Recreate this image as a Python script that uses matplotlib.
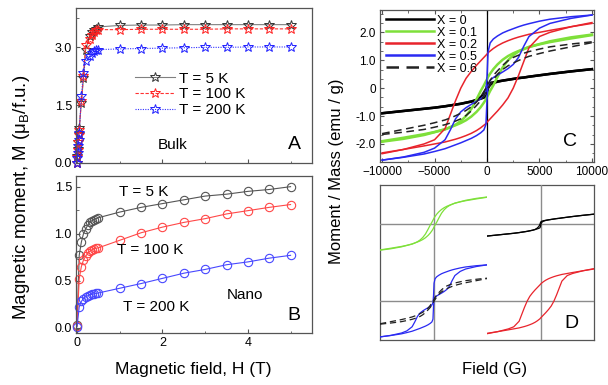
import matplotlib
matplotlib.use("Agg")
import matplotlib.pyplot as plt
from matplotlib.ticker import MultipleLocator, AutoMinorLocator

plt.rcParams["font.family"] = ["Liberation Sans", "DejaVu Sans"]
plt.rcParams["mathtext.fontset"] = "custom"
plt.rcParams["mathtext.rm"] = "Liberation Sans"

# ---- panel A: bulk M(H), field in T, moment in muB/f.u.
bulk_field = [0, 0.01, 0.02, 0.03, 0.04, 0.05, 0.1, 0.15, 0.2, 0.3, 0.35, 0.4, 0.45, 0.5,
              1.0, 1.5, 2.0, 2.5, 3.0, 3.5, 4.0, 4.5, 5.0]
bulk_5k = [0, 0.17, 0.35, 0.55, 0.75, 0.9, 1.55, 2.2, 2.94, 3.29, 3.39, 3.44, 3.48, 3.53,
           3.57, 3.58, 3.58, 3.59, 3.59, 3.59, 3.59, 3.59, 3.59]
bulk_100k = [0, 0.16, 0.34, 0.53, 0.72, 0.86, 1.6, 2.25, 3.05, 3.22, 3.33, 3.4, 3.44, 3.46,
             3.46, 3.47, 3.47, 3.47, 3.47, 3.48, 3.48, 3.48, 3.48]
bulk_200k = [0, 0.13, 0.26, 0.43, 0.6, 0.78, 1.73, 2.34, 2.64, 2.77, 2.86, 2.9, 2.92, 2.94,
             2.96, 2.97, 2.98, 2.99, 3.0, 3.0, 3.01, 3.01, 3.01]

# ---- panel B: nano M(H)
nano_field = [0, 0.05, 0.1, 0.15, 0.2, 0.25, 0.3, 0.35, 0.4, 0.45, 0.5,
              1.0, 1.5, 2.0, 2.5, 3.0, 3.5, 4.0, 4.5, 5.0]
nano_5k = [0.03, 0.77, 0.91, 1.0, 1.05, 1.09, 1.12, 1.14, 1.15, 1.16, 1.17,
           1.23, 1.28, 1.32, 1.36, 1.40, 1.42, 1.45, 1.47, 1.50]
nano_100k = [0.02, 0.52, 0.65, 0.72, 0.76, 0.79, 0.815, 0.83, 0.84, 0.845, 0.85,
             0.93, 1.01, 1.07, 1.12, 1.16, 1.21, 1.245, 1.28, 1.31]
nano_200k = [0.01, 0.22, 0.28, 0.31, 0.33, 0.34, 0.35, 0.355, 0.36, 0.365, 0.37,
             0.42, 0.47, 0.525, 0.58, 0.62, 0.67, 0.70, 0.74, 0.77]

# ---- panels C/D: hysteresis loops, field in G, moment in emu/g
loop_field = [-10000, -8000, -6000, -5000, -4000, -3500, -3000, -2500, -2000, -1500, -1000,
              -600, -300, -100, 0, 100, 300, 600, 1000, 1500, 2000, 2500, 3000, 3500, 4000,
              5000, 6000, 8000, 10000]
# branch coming down from +saturation ("up") and going up from -saturation ("dn")
x0_up = [-0.9, -0.82, -0.74, -0.7, -0.65, -0.62, -0.59, -0.56, -0.52, -0.48, -0.42,
         -0.32, -0.2, -0.05, 0.08, 0.14, 0.18, 0.21, 0.24, 0.27, 0.3, 0.33, 0.36, 0.38, 0.41,
         0.46, 0.51, 0.6, 0.68]
x0_dn = [-0.9, -0.82, -0.74, -0.7, -0.65, -0.62, -0.59, -0.56, -0.52, -0.48, -0.43,
         -0.38, -0.34, -0.3, -0.2, 0.0, 0.12, 0.18, 0.23, 0.27, 0.3, 0.33, 0.36, 0.38, 0.41,
         0.46, 0.51, 0.6, 0.68]
x01_up = [-1.92, -1.82, -1.68, -1.58, -1.48, -1.4, -1.31, -1.18, -1.0, -0.75, -0.4,
          -0.1, 0.1, 0.25, 0.32, 0.4, 0.52, 0.68, 0.85, 1.02, 1.15, 1.25, 1.33, 1.4, 1.47,
          1.57, 1.65, 1.78, 1.9]
x01_dn = [-1.9, -1.78, -1.65, -1.57, -1.47, -1.4, -1.33, -1.25, -1.15, -1.02, -0.85,
          -0.68, -0.52, -0.4, -0.32, -0.25, -0.1, 0.1, 0.4, 0.75, 1.0, 1.18, 1.31, 1.4, 1.48,
          1.58, 1.68, 1.82, 1.92]
x02_up = [-2.35, -2.2, -2.0, -1.85, -1.45, -0.95, -0.45, 0.0, 0.35, 0.6, 0.82,
          0.98, 1.1, 1.18, 1.22, 1.27, 1.33, 1.42, 1.52, 1.62, 1.7, 1.77, 1.83, 1.88, 1.93,
          2.0, 2.07, 2.2, 2.32]
x02_dn = [-2.32, -2.2, -2.07, -2.0, -1.93, -1.88, -1.83, -1.77, -1.7, -1.62, -1.52,
          -1.42, -1.33, -1.27, -1.22, -1.18, -1.1, -0.98, -0.82, -0.6, -0.35, 0.0, 0.45, 0.95,
          1.45, 1.85, 2.0, 2.2, 2.35]
x05_up = [-2.58, -2.47, -2.3, -2.15, -1.85, -1.5, -1.1, -0.85, -0.7, -0.58, -0.47,
          -0.38, -0.28, -0.1, 0.4, 1.3, 1.62, 1.76, 1.87, 1.98, 2.06, 2.13, 2.2, 2.26, 2.31,
          2.4, 2.47, 2.56, 2.62]
x05_dn = [-2.58, -2.48, -2.36, -2.27, -2.17, -2.1, -2.03, -1.96, -1.88, -1.8, -1.7,
          -1.6, -1.5, -1.3, -0.4, 0.1, 0.28, 0.38, 0.47, 0.58, 0.7, 0.85, 1.1, 1.5, 1.85,
          2.15, 2.32, 2.5, 2.62]
x06_up = [-1.63, -1.48, -1.33, -1.24, -1.14, -1.07, -0.99, -0.9, -0.8, -0.67, -0.5,
          -0.3, -0.12, 0.0, 0.06, 0.14, 0.28, 0.45, 0.62, 0.82, 0.98, 1.1, 1.18, 1.25, 1.31,
          1.4, 1.48, 1.58, 1.66]
x06_dn = [-1.66, -1.58, -1.48, -1.4, -1.31, -1.25, -1.18, -1.1, -0.98, -0.82, -0.62,
          -0.45, -0.28, -0.14, -0.06, 0.0, 0.12, 0.3, 0.5, 0.67, 0.8, 0.9, 0.99, 1.07, 1.14,
          1.24, 1.33, 1.48, 1.63]

c_xticks = [-10000, -5000, 0, 5000, 10000]
c_yticks = [-2, -1, 0, 1, 2]
c_ytick_labels = ["-2.0", "-1.0", "0", "1.0", "2.0"]

GREEN = "#7ee03a"
RED = "#e8242c"
BLUE = "#2a2af2"
SPINE = "#555555"

fig = plt.figure(figsize=(6.08, 3.85), dpi=100)
axA = fig.add_axes([0.125, 0.577, 0.388, 0.402])
axB = fig.add_axes([0.125, 0.135, 0.388, 0.408])
axC = fig.add_axes([0.625, 0.579, 0.352, 0.395])
axD = fig.add_axes([0.625, 0.117, 0.352, 0.403])


def style(ax, allsides=False, labelsize=9):
    for s in ax.spines.values():
        s.set_color(SPINE)
        s.set_linewidth(0.9)
    ax.tick_params(which="both", direction="in", labelsize=labelsize, colors=SPINE,
                   labelcolor="black", top=allsides, right=allsides, pad=3)
    ax.tick_params(which="major", length=3)
    ax.tick_params(which="minor", length=1.8)


# ---- A
axA.plot(bulk_field, bulk_5k, color="#808080", lw=0.8, marker="*", ms=7.5, mfc="none",
         mec="#333333", mew=0.7, label="T = 5 K", clip_on=False)
axA.plot(bulk_field, bulk_100k, color="#ff3030", lw=0.8, ls=(0, (3, 1.5)), marker="*", ms=7.5,
         mfc="none", mec="#ff2020", mew=0.7, label="T = 100 K", clip_on=False)
axA.plot(bulk_field, bulk_200k, color="#3030ff", lw=0.8, ls=(0, (1, 1.2)), marker="*", ms=7.5,
         mfc="none", mec="#2020ff", mew=0.7, label="T = 200 K", clip_on=False)
axA.set_xlim(-0.025, 5.5)
axA.set_ylim(0, 4.02)
axA.set_yticks([0, 1.5, 3.0])
axA.set_yticklabels(["0.0", "1.5", "3.0"])
axA.yaxis.set_minor_locator(MultipleLocator(0.75))
axA.xaxis.set_major_locator(MultipleLocator(2))
axA.xaxis.set_minor_locator(MultipleLocator(1))
axA.tick_params(labelbottom=False)
style(axA)
axA.legend(loc="upper left", bbox_to_anchor=(0.25, 0.59), frameon=False, fontsize=11,
           numpoints=1, handlelength=2.6, handletextpad=0.3, labelspacing=0.12,
           borderpad=0, borderaxespad=0)
axA.text(0.41, 0.116, "Bulk", transform=axA.transAxes, fontsize=11, ha="center", va="center")
axA.text(0.925, 0.116, "A", transform=axA.transAxes, fontsize=14, ha="center", va="center")

# ---- B
for vals, col in [(nano_5k, "#555555"), (nano_100k, "#ff4848"), (nano_200k, "#4848ff")]:
    axB.plot(nano_field, vals, color=col, lw=0.8, marker="o", ms=6, mfc="none", mec=col,
             mew=0.8, clip_on=False)
axB.set_xlim(-0.025, 5.5)
axB.set_ylim(-0.056, 1.614)
axB.set_yticks([0, 0.5, 1.0, 1.5])
axB.set_yticklabels(["0.0", "0.5", "1.0", "1.5"])
axB.yaxis.set_minor_locator(MultipleLocator(0.25))
axB.xaxis.set_major_locator(MultipleLocator(2))
axB.xaxis.set_minor_locator(MultipleLocator(1))
style(axB)
axB.text(0.288, 0.898, "T = 5 K", transform=axB.transAxes, fontsize=11, ha="center", va="center")
axB.text(0.316, 0.53, "T = 100 K", transform=axB.transAxes, fontsize=11, ha="center", va="center")
axB.text(0.34, 0.166, "T = 200 K", transform=axB.transAxes, fontsize=11, ha="center", va="center")
axB.text(0.716, 0.242, "Nano", transform=axB.transAxes, fontsize=11, ha="center", va="center")
axB.text(0.925, 0.112, "B", transform=axB.transAxes, fontsize=14, ha="center", va="center")

fig.text(0.318, 0.039, "Magnetic field, H (T)", fontsize=12.5, ha="center", va="center")
fig.text(0.036, 0.488, r"Magnetic moment, M (μ$_\mathregular{B}$/f.u.)", rotation=90,
         fontsize=13.5, ha="center", va="center")

# ---- C
loops = [
    (x0_up, x0_dn, "black", 1.8, "-", "X = 0"),
    (x01_up, x01_dn, GREEN, 1.8, "-", "X = 0.1"),
    (x02_up, x02_dn, RED, 1.1, "-", "X = 0.2"),
    (x05_up, x05_dn, BLUE, 1.1, "-", "X = 0.5"),
    (x06_up, x06_dn, "#222222", 1.1, (0, (5, 3)), "X = 0.6"),
]
axC.axvline(0, color="black", lw=0.9)
for up, dn, col, lw, ls, lab in loops:
    axC.plot(loop_field, up, color=col, lw=lw, ls=ls, label=lab)
    axC.plot(loop_field, dn, color=col, lw=lw, ls=ls)
axC.set_xlim(-10200, 10200)
axC.set_ylim(-2.65, 2.8)
axC.set_xticks(c_xticks)
axC.set_yticks(c_yticks)
axC.set_yticklabels(c_ytick_labels)
axC.xaxis.set_minor_locator(AutoMinorLocator(2))
axC.yaxis.set_minor_locator(AutoMinorLocator(3))
style(axC, allsides=True, labelsize=8.5)
leg = axC.legend(loc="upper left", bbox_to_anchor=(0.03, 0.97), frameon=False, fontsize=9,
                 handlelength=3.8, handletextpad=0.25, labelspacing=0.0, borderpad=0,
                 borderaxespad=0)
for h in leg.get_lines():
    h.set_linewidth(1.8)
axC.text(0.888, 0.134, "C", transform=axC.transAxes, fontsize=14, ha="center", va="center")

# ---- D: same loops split in four quadrants
axD.set_xticks([])
axD.set_yticks([])
for s in axD.spines.values():
    s.set_color(SPINE)
    s.set_linewidth(0.9)
quad_pos = {
    "tl": [0.625, 0.3185, 0.176, 0.2015],
    "tr": [0.801, 0.3185, 0.176, 0.2015],
    "bl": [0.625, 0.117, 0.176, 0.2015],
    "br": [0.801, 0.117, 0.176, 0.2015],
}
quad_loops = {"tl": [1], "tr": [0], "bl": [3, 4], "br": [2]}
for key, idx in quad_loops.items():
    q = fig.add_axes(quad_pos[key])
    q.set_axis_off()
    q.axhline(0, color="#8c8c8c", lw=1.0)
    q.axvline(0, color="#8c8c8c", lw=1.0)
    for i in idx:
        up, dn, col, lw, ls, lab = loops[i]
        q.plot(loop_field, up, color=col, lw=0.9, ls=ls)
        q.plot(loop_field, dn, color=col, lw=0.9, ls=ls)
    q.set_xlim(-10000, 10000)
    q.set_ylim(-2.8, 2.8)
axD.text(0.896, 0.108, "D", transform=axD.transAxes, fontsize=14, ha="center", va="center")

fig.text(0.554, 0.556, "Moment / Mass (emu / g)", rotation=90, fontsize=12,
         ha="center", va="center")
fig.text(0.813, 0.039, "Field (G)", fontsize=12, ha="center", va="center")

fig.savefig("out.png", dpi=100)
